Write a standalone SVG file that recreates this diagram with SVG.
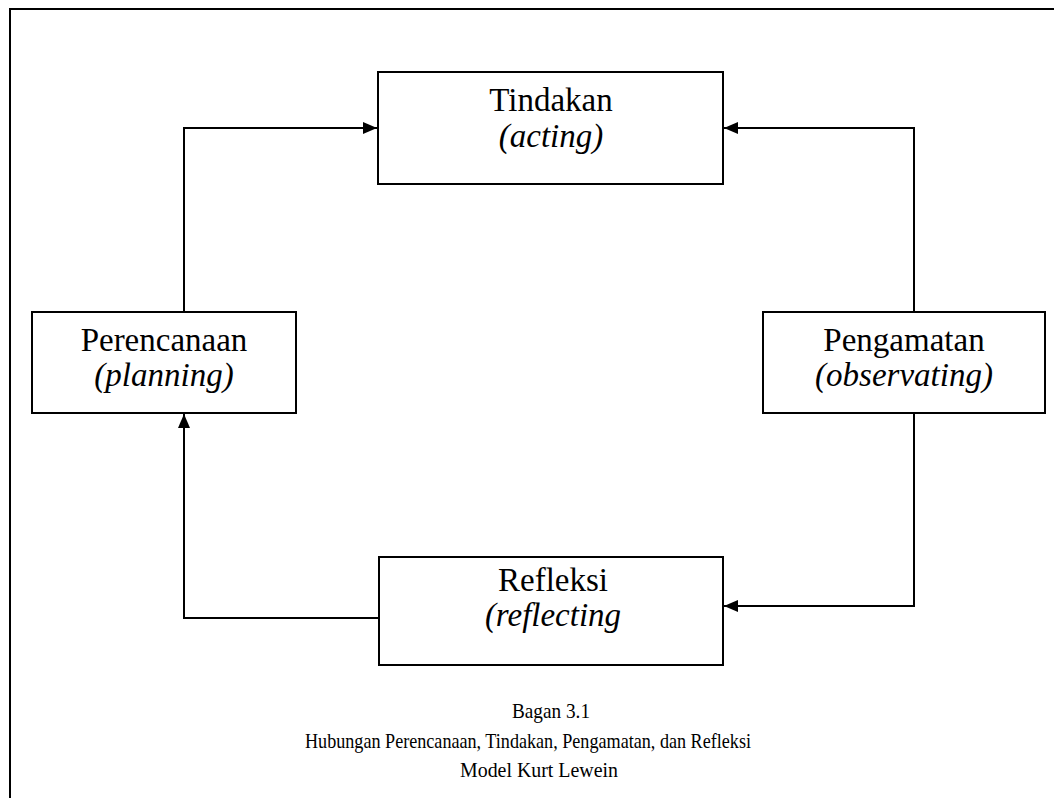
<svg xmlns="http://www.w3.org/2000/svg" width="1054" height="798" viewBox="0 0 1054 798">
<style>
.box{fill:#fff;stroke:#000;stroke-width:2}
.t{font-family:"Liberation Serif","Times New Roman",serif;font-size:33px;fill:#000;text-anchor:middle}
.i{font-style:italic}
.c{font-family:"Liberation Serif","Times New Roman",serif;font-size:22px;fill:#000;text-anchor:middle}
.ln{fill:none;stroke:#000;stroke-width:2}
</style>
<defs>
<marker id="ah" viewBox="0 0 14 12" refX="14" refY="6" markerWidth="14" markerHeight="12" markerUnits="userSpaceOnUse" orient="auto">
<path d="M0,0 L14,6 L0,12 Z" fill="#000"/>
</marker>
</defs>
<rect width="1054" height="798" fill="#fff"/>
<path d="M10,798 V9 H1054" fill="none" stroke="#000" stroke-width="2"/>
<g id="connectors">
<path class="ln" d="M184,312 V128 H377" marker-end="url(#ah)"/>
<path class="ln" d="M914,312 V128 H724" marker-end="url(#ah)"/>
<path class="ln" d="M914,413 V606 H724" marker-end="url(#ah)"/>
<path class="ln" d="M379,618 H184 V414" marker-end="url(#ah)"/>
</g>
<g id="tindakan">
<rect class="box" x="378" y="72" width="345" height="112"/>
<text class="t" x="551" y="111">Tindakan</text>
<text class="t i" x="551" y="147">(acting)</text>
</g>
<g id="perencanaan">
<rect class="box" x="32" y="312" width="264" height="101"/>
<text class="t" x="164" y="351">Perencanaan</text>
<text class="t i" x="164" y="386">(planning)</text>
</g>
<g id="pengamatan">
<rect class="box" x="763" y="312" width="282" height="101"/>
<text class="t" x="904" y="351">Pengamatan</text>
<text class="t i" x="904" y="386">(observating)</text>
</g>
<g id="refleksi">
<rect class="box" x="379" y="557" width="344" height="108"/>
<text class="t" x="553" y="591">Refleksi</text>
<text class="t i" x="553" y="626">(reflecting</text>
</g>
<g id="caption">
<text class="c" x="551" y="718" textLength="78" lengthAdjust="spacingAndGlyphs">Bagan 3.1</text>
<text class="c" x="528" y="748" textLength="446" lengthAdjust="spacingAndGlyphs">Hubungan Perencanaan, Tindakan, Pengamatan, dan Refleksi</text>
<text class="c" x="539" y="777" textLength="158" lengthAdjust="spacingAndGlyphs">Model Kurt Lewein</text>
</g>
</svg>
